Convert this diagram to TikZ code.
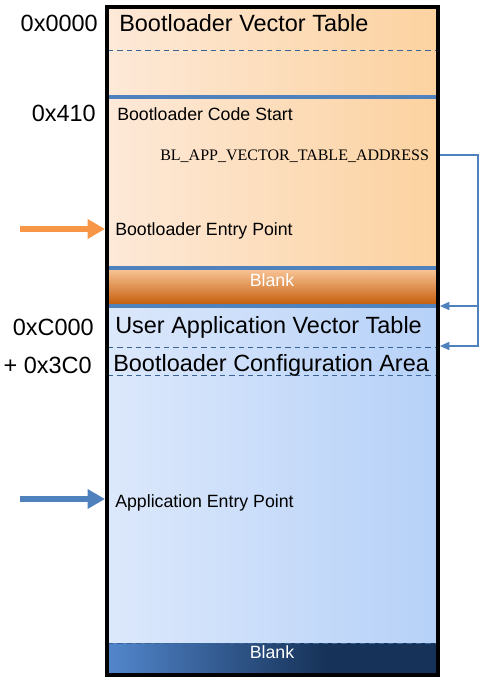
\documentclass[tikz,border=0pt]{standalone}
\usepackage{fontspec}
\setmainfont{Liberation Sans}
\newfontfamily\blserif{Liberation Serif}
\usetikzlibrary{arrows.meta}

\definecolor{lineblue}{RGB}{79,129,189}
\definecolor{dashblue}{RGB}{59,100,150}
\definecolor{peachL}{RGB}{253,233,216}
\definecolor{peachR}{RGB}{252,210,160}
\definecolor{bandTop}{RGB}{250,200,155}
\definecolor{bandMid}{RGB}{236,122,28}
\definecolor{bandBot}{RGB}{196,92,10}
\definecolor{skyL}{RGB}{220,232,251}
\definecolor{skyR}{RGB}{182,209,248}
\definecolor{navyL}{RGB}{82,134,204}
\definecolor{navyR}{RGB}{22,50,88}
\definecolor{entryorange}{RGB}{247,150,70}

\pgfdeclarehorizontalshading{navyband}{100bp}{color(0bp)=(navyL); color(25bp)=(navyL); color(58bp)=(navyR); color(100bp)=(navyR)}

\begin{document}
\begin{tikzpicture}[x=0.75pt,y=0.75pt,yscale=-1,xscale=1,
  bigtxt/.style={inner sep=0.75pt,font=\fontsize{17.6}{21}\selectfont},
  smalltxt/.style={inner sep=0.75pt,font=\fontsize{13.3}{16}\selectfont},
  divider/.style={draw=lineblue,line width=3pt},
  dashdiv/.style={draw=dashblue,line width=0.6pt,dash pattern={on 4pt off 3pt}},
  entry/.style={line width=3.8pt,-{Triangle[length=13pt,width=14pt]}},
  link/.style={draw=lineblue,line width=1.1pt,-{Triangle[length=7pt,width=6pt]}}]
\useasboundingbox (0,0) rectangle (486,684);

%Shape: Rectangle [bootloader area]
\fill [left color=peachL,right color=peachR] (108,8) rectangle (437,268);
%Shape: Rectangle [blank band, orange]
\fill [top color=bandTop,middle color=bandMid,bottom color=bandBot] (108,268) rectangle (437,305);
%Shape: Rectangle [application area]
\fill [left color=skyL,right color=skyR] (108,305) rectangle (437,643);
%Shape: Rectangle [blank band, navy]
\fill [shading=navyband] (108,643) rectangle (437,674);

%Straight Lines [dividers]
\draw [dashdiv] (108,50) -- (437,50) ;
\draw [divider] (108,97) -- (437,97) ;
\draw [divider] (108,268) -- (437,268) ;
\draw [divider] (108,305.5) -- (437,305.5) ;
\draw [dashdiv] (108,347) -- (437,347) ;
\draw [dashdiv] (108,375) -- (437,375) ;
\draw [dashdiv] (108,643) -- (437,643) ;

%Shape: Rectangle [memory frame]
\draw [line width=2.7pt] (107,7) rectangle (438,675) ;

% Text Node
\draw (99,23) node (addrBoot) [anchor=east][bigtxt] {0x0000};
% Text Node
\draw (97,113) node (addrCode) [anchor=east][bigtxt] {0x410};
% Text Node
\draw (95,327) node (addrApp) [anchor=east][bigtxt] {0xC000};
% Text Node
\draw (93,365) node (addrCfg) [anchor=east][bigtxt] {+ 0x3C0};

% Text Node
\draw (118,23) node (blVector) [anchor=west][bigtxt] {Bootloader Vector Table};
% Text Node
\draw (116,114) node (blCode) [anchor=west][smalltxt] {Bootloader Code Start};
% Text Node
\draw (159,156) node (blAddr) [anchor=west][inner sep=0.75pt,font=\blserif\fontsize{12}{14}\selectfont] {BL\_APP\_VECTOR\_TABLE\_ADDRESS};
% Text Node
\draw (114,231) node (blEntry) [anchor=west][smalltxt] {Bootloader Entry Point};
% Text Node
\draw (272,280) node (blankTop) [smalltxt,text=white] {Blank};
% Text Node
\draw (114,327) node (appVector) [anchor=west][bigtxt] {User Application Vector Table};
% Text Node
\draw (112,365) node (cfgArea) [anchor=west][bigtxt] {Bootloader Configuration Area};
% Text Node
\draw (114,503) node (appEntry) [anchor=west][smalltxt] {Application Entry Point};
% Text Node
\draw (272,652) node (blankBot) [smalltxt,text=white] {Blank};

%Entry arrows
\coordinate (blEntryTail) at (20,229);
\coordinate (blEntryTip) at (105,229);
\coordinate (appEntryTail) at (20,499);
\coordinate (appEntryTip) at (105,499);
\draw [entry,entryorange] (blEntryTail) -- (blEntryTip) ;
\draw [entry,lineblue] (appEntryTail) -- (appEntryTip) ;

%Address pointer connector
\coordinate (addrOut) at (440,155);
\coordinate (busTop) at (478,155);
\coordinate (busMid) at (478,306);
\coordinate (busBot) at (478,346);
\coordinate (appStart) at (440,306);
\coordinate (cfgStart) at (440,346);
\draw [link] (addrOut) -- (busTop) -- (busBot) -- (cfgStart) ;
\draw [link] (busMid) -- (appStart) ;

\end{tikzpicture}
\end{document}
